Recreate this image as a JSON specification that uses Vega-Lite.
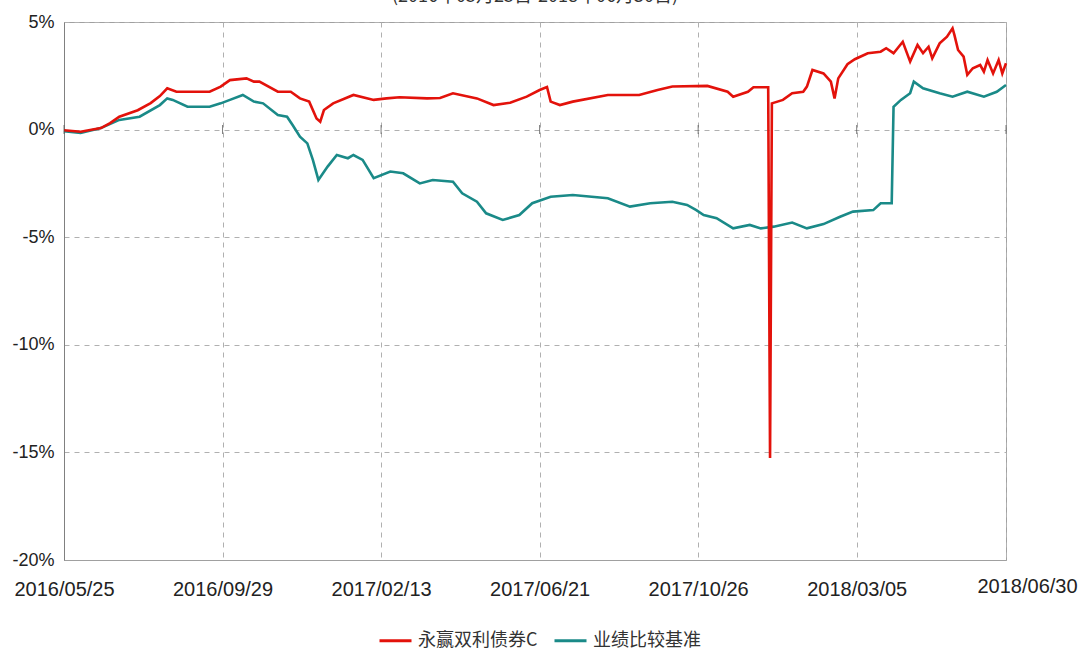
{
  "$schema": "https://vega.github.io/schema/vega-lite/v6.json",
  "width": 942,
  "height": 538,
  "autosize": "none",
  "padding": {"left": 64, "top": 22, "right": 75, "bottom": 91},
  "background": "white",
  "title": {
    "text": "(2016年05月25日-2018年06月30日)",
    "frame": "group",
    "anchor": "middle",
    "offset": 7,
    "font": "Noto Sans CJK SC",
    "fontSize": 18,
    "fontWeight": "normal",
    "color": "#333333"
  },
  "config": {
    "view": {"stroke": "#a0a0a0", "strokeWidth": 1},
    "legend": {"padding": 0}
  },
  "datasets": {
    "series": [
      {"d": 0, "v": -0.03, "s": "永赢双利债券C"},
      {"d": 9, "v": -0.1, "s": "永赢双利债券C"},
      {"d": 20, "v": 0.07, "s": "永赢双利债券C"},
      {"d": 25, "v": 0.3, "s": "永赢双利债券C"},
      {"d": 30, "v": 0.6, "s": "永赢双利债券C"},
      {"d": 40, "v": 0.9, "s": "永赢双利债券C"},
      {"d": 47, "v": 1.23, "s": "永赢双利债券C"},
      {"d": 52, "v": 1.56, "s": "永赢双利债券C"},
      {"d": 56, "v": 1.92, "s": "永赢双利债券C"},
      {"d": 61, "v": 1.76, "s": "永赢双利债券C"},
      {"d": 70, "v": 1.76, "s": "永赢双利债券C"},
      {"d": 79, "v": 1.76, "s": "永赢双利债券C"},
      {"d": 85, "v": 2.0, "s": "永赢双利债券C"},
      {"d": 90, "v": 2.3, "s": "永赢双利债券C"},
      {"d": 99, "v": 2.38, "s": "永赢双利债券C"},
      {"d": 103, "v": 2.23, "s": "永赢双利债券C"},
      {"d": 106, "v": 2.23, "s": "永赢双利债券C"},
      {"d": 116, "v": 1.76, "s": "永赢双利债券C"},
      {"d": 123, "v": 1.76, "s": "永赢双利债券C"},
      {"d": 128, "v": 1.45, "s": "永赢双利债券C"},
      {"d": 133, "v": 1.3, "s": "永赢双利债券C"},
      {"d": 137, "v": 0.52, "s": "永赢双利债券C"},
      {"d": 139, "v": 0.37, "s": "永赢双利债券C"},
      {"d": 141, "v": 0.91, "s": "永赢双利债券C"},
      {"d": 146, "v": 1.22, "s": "永赢双利债券C"},
      {"d": 157, "v": 1.61, "s": "永赢双利债券C"},
      {"d": 168, "v": 1.38, "s": "永赢双利债券C"},
      {"d": 175, "v": 1.45, "s": "永赢双利债券C"},
      {"d": 182, "v": 1.5, "s": "永赢双利债券C"},
      {"d": 197, "v": 1.45, "s": "永赢双利债券C"},
      {"d": 204, "v": 1.47, "s": "永赢双利债券C"},
      {"d": 211, "v": 1.69, "s": "永赢双利债券C"},
      {"d": 224, "v": 1.45, "s": "永赢双利债券C"},
      {"d": 233, "v": 1.14, "s": "永赢双利债券C"},
      {"d": 242, "v": 1.25, "s": "永赢双利债券C"},
      {"d": 251, "v": 1.53, "s": "永赢双利债券C"},
      {"d": 258, "v": 1.84, "s": "永赢双利债券C"},
      {"d": 262, "v": 1.98, "s": "永赢双利债券C"},
      {"d": 264, "v": 1.3, "s": "永赢双利债券C"},
      {"d": 269, "v": 1.14, "s": "永赢双利债券C"},
      {"d": 276, "v": 1.3, "s": "永赢双利债券C"},
      {"d": 295, "v": 1.61, "s": "永赢双利债券C"},
      {"d": 312, "v": 1.61, "s": "永赢双利债券C"},
      {"d": 322, "v": 1.84, "s": "永赢双利债券C"},
      {"d": 330, "v": 2.0, "s": "永赢双利债券C"},
      {"d": 349, "v": 2.03, "s": "永赢双利债券C"},
      {"d": 360, "v": 1.76, "s": "永赢双利债券C"},
      {"d": 363, "v": 1.53, "s": "永赢双利债券C"},
      {"d": 371, "v": 1.76, "s": "永赢双利债券C"},
      {"d": 374, "v": 1.97, "s": "永赢双利债券C"},
      {"d": 382, "v": 1.97, "s": "永赢双利债券C"},
      {"d": 383, "v": -15.26, "s": "永赢双利债券C"},
      {"d": 384, "v": 1.22, "s": "永赢双利债券C"},
      {"d": 390, "v": 1.38, "s": "永赢双利债券C"},
      {"d": 395, "v": 1.69, "s": "永赢双利债券C"},
      {"d": 401, "v": 1.76, "s": "永赢双利债券C"},
      {"d": 403, "v": 2.0, "s": "永赢双利债券C"},
      {"d": 406, "v": 2.77, "s": "永赢双利债券C"},
      {"d": 412, "v": 2.61, "s": "永赢双利债券C"},
      {"d": 416, "v": 2.23, "s": "永赢双利债券C"},
      {"d": 418, "v": 1.45, "s": "永赢双利债券C"},
      {"d": 420, "v": 2.38, "s": "永赢双利债券C"},
      {"d": 425, "v": 3.04, "s": "永赢双利债券C"},
      {"d": 429, "v": 3.27, "s": "永赢双利债券C"},
      {"d": 436, "v": 3.55, "s": "永赢双利债券C"},
      {"d": 443, "v": 3.62, "s": "永赢双利债券C"},
      {"d": 446, "v": 3.78, "s": "永赢双利债券C"},
      {"d": 450, "v": 3.55, "s": "永赢双利债券C"},
      {"d": 455, "v": 4.08, "s": "永赢双利债券C"},
      {"d": 459, "v": 3.16, "s": "永赢双利债券C"},
      {"d": 463, "v": 3.93, "s": "永赢双利债券C"},
      {"d": 466, "v": 3.55, "s": "永赢双利债券C"},
      {"d": 469, "v": 3.85, "s": "永赢双利债券C"},
      {"d": 471, "v": 3.31, "s": "永赢双利债券C"},
      {"d": 475, "v": 4.01, "s": "永赢双利债券C"},
      {"d": 479, "v": 4.32, "s": "永赢双利债券C"},
      {"d": 482, "v": 4.71, "s": "永赢双利债券C"},
      {"d": 483, "v": 4.4, "s": "永赢双利债券C"},
      {"d": 485, "v": 3.7, "s": "永赢双利债券C"},
      {"d": 488, "v": 3.39, "s": "永赢双利债券C"},
      {"d": 490, "v": 2.54, "s": "永赢双利债券C"},
      {"d": 493, "v": 2.85, "s": "永赢双利债券C"},
      {"d": 497, "v": 3.0, "s": "永赢双利债券C"},
      {"d": 499, "v": 2.69, "s": "永赢双利债券C"},
      {"d": 501, "v": 3.23, "s": "永赢双利债券C"},
      {"d": 504, "v": 2.61, "s": "永赢双利债券C"},
      {"d": 507, "v": 3.23, "s": "永赢双利债券C"},
      {"d": 509, "v": 2.61, "s": "永赢双利债券C"},
      {"d": 511, "v": 3.08, "s": "永赢双利债券C"},
      {"d": 0, "v": -0.07, "s": "业绩比较基准"},
      {"d": 9, "v": -0.16, "s": "业绩比较基准"},
      {"d": 20, "v": 0.07, "s": "业绩比较基准"},
      {"d": 30, "v": 0.45, "s": "业绩比较基准"},
      {"d": 41, "v": 0.6, "s": "业绩比较基准"},
      {"d": 52, "v": 1.14, "s": "业绩比较基准"},
      {"d": 56, "v": 1.45, "s": "业绩比较基准"},
      {"d": 59, "v": 1.38, "s": "业绩比较基准"},
      {"d": 67, "v": 1.06, "s": "业绩比较基准"},
      {"d": 79, "v": 1.06, "s": "业绩比较基准"},
      {"d": 85, "v": 1.22, "s": "业绩比较基准"},
      {"d": 90, "v": 1.38, "s": "业绩比较基准"},
      {"d": 97, "v": 1.61, "s": "业绩比较基准"},
      {"d": 103, "v": 1.3, "s": "业绩比较基准"},
      {"d": 108, "v": 1.22, "s": "业绩比较基准"},
      {"d": 116, "v": 0.68, "s": "业绩比较基准"},
      {"d": 121, "v": 0.6, "s": "业绩比较基准"},
      {"d": 124, "v": 0.21, "s": "业绩比较基准"},
      {"d": 128, "v": -0.33, "s": "业绩比较基准"},
      {"d": 132, "v": -0.64, "s": "业绩比较基准"},
      {"d": 135, "v": -1.41, "s": "业绩比较基准"},
      {"d": 138, "v": -2.34, "s": "业绩比较基准"},
      {"d": 143, "v": -1.72, "s": "业绩比较基准"},
      {"d": 148, "v": -1.18, "s": "业绩比较基准"},
      {"d": 154, "v": -1.33, "s": "业绩比较基准"},
      {"d": 157, "v": -1.18, "s": "业绩比较基准"},
      {"d": 162, "v": -1.41, "s": "业绩比较基准"},
      {"d": 168, "v": -2.26, "s": "业绩比较基准"},
      {"d": 177, "v": -1.95, "s": "业绩比较基准"},
      {"d": 184, "v": -2.03, "s": "业绩比较基准"},
      {"d": 193, "v": -2.5, "s": "业绩比较基准"},
      {"d": 200, "v": -2.34, "s": "业绩比较基准"},
      {"d": 211, "v": -2.42, "s": "业绩比较基准"},
      {"d": 216, "v": -2.96, "s": "业绩比较基准"},
      {"d": 224, "v": -3.35, "s": "业绩比较基准"},
      {"d": 229, "v": -3.89, "s": "业绩比较基准"},
      {"d": 238, "v": -4.2, "s": "业绩比较基准"},
      {"d": 247, "v": -3.97, "s": "业绩比较基准"},
      {"d": 254, "v": -3.42, "s": "业绩比较基准"},
      {"d": 264, "v": -3.12, "s": "业绩比较基准"},
      {"d": 276, "v": -3.04, "s": "业绩比较基准"},
      {"d": 295, "v": -3.19, "s": "业绩比较基准"},
      {"d": 307, "v": -3.58, "s": "业绩比较基准"},
      {"d": 318, "v": -3.42, "s": "业绩比较基准"},
      {"d": 330, "v": -3.35, "s": "业绩比较基准"},
      {"d": 338, "v": -3.5, "s": "业绩比较基准"},
      {"d": 343, "v": -3.74, "s": "业绩比较基准"},
      {"d": 347, "v": -3.97, "s": "业绩比较基准"},
      {"d": 354, "v": -4.12, "s": "业绩比较基准"},
      {"d": 363, "v": -4.59, "s": "业绩比较基准"},
      {"d": 372, "v": -4.43, "s": "业绩比较基准"},
      {"d": 378, "v": -4.59, "s": "业绩比较基准"},
      {"d": 385, "v": -4.51, "s": "业绩比较基准"},
      {"d": 395, "v": -4.32, "s": "业绩比较基准"},
      {"d": 403, "v": -4.59, "s": "业绩比较基准"},
      {"d": 412, "v": -4.39, "s": "业绩比较基准"},
      {"d": 421, "v": -4.05, "s": "业绩比较基准"},
      {"d": 428, "v": -3.81, "s": "业绩比较基准"},
      {"d": 439, "v": -3.74, "s": "业绩比较基准"},
      {"d": 443, "v": -3.42, "s": "业绩比较基准"},
      {"d": 449, "v": -3.42, "s": "业绩比较基准"},
      {"d": 450, "v": 1.06, "s": "业绩比较基准"},
      {"d": 454, "v": 1.38, "s": "业绩比较基准"},
      {"d": 459, "v": 1.69, "s": "业绩比较基准"},
      {"d": 461, "v": 2.23, "s": "业绩比较基准"},
      {"d": 466, "v": 1.92, "s": "业绩比较基准"},
      {"d": 475, "v": 1.69, "s": "业绩比较基准"},
      {"d": 482, "v": 1.53, "s": "业绩比较基准"},
      {"d": 490, "v": 1.76, "s": "业绩比较基准"},
      {"d": 499, "v": 1.53, "s": "业绩比较基准"},
      {"d": 506, "v": 1.76, "s": "业绩比较基准"},
      {"d": 511, "v": 2.07, "s": "业绩比较基准"}
    ],
    "ticks": [
      {"d": 0, "v": 0}, {"d": 86, "v": 0}, {"d": 172, "v": 0}, {"d": 258, "v": 0},
      {"d": 344, "v": 0}, {"d": 430, "v": 0}, {"d": 511, "v": 0}
    ]
  },
  "layer": [
    {
      "data": {"name": "series"},
      "transform": [{"filter": "datum.s == '业绩比较基准'"}],
      "mark": {"type": "line", "strokeWidth": 2.6, "interpolate": "linear"},
      "encoding": {
        "x": {
          "field": "d", "type": "quantitative",
          "scale": {"domain": [0, 511], "nice": false, "zero": false},
          "axis": {
            "title": null,
            "values": [0, 86, 172, 258, 344, 430, 511],
            "labelExpr": "datum.value == 0 ? '2016/05/25' : datum.value == 86 ? '2016/09/29' : datum.value == 172 ? '2017/02/13' : datum.value == 258 ? '2017/06/21' : datum.value == 344 ? '2017/10/26' : datum.value == 430 ? '2018/03/05' : '2018/06/30'",
            "labelFlush": false,
            "labelOverlap": false,
            "labelBound": false,
            "labelFont": "Liberation Sans",
            "labelFontSize": 20,
            "labelColor": "#222222",
            "labelPadding": {"condition": {"test": "datum.value == 511", "value": 16}, "value": 19},
            "labelOffset": {"condition": {"test": "datum.value == 511", "value": 21}, "value": 0},
            "ticks": false,
            "tickSize": 0,
            "domain": true,
            "domainColor": "#a0a0a0",
            "grid": true,
            "gridDash": [5, 5],
            "gridColor": "#b0b0b0",
            "gridWidth": 1
          }
        },
        "y": {
          "field": "v", "type": "quantitative",
          "scale": {"domain": [-20, 5], "nice": false, "zero": false},
          "axis": {
            "title": null,
            "values": [-20, -15, -10, -5, 0, 5],
            "labelExpr": "datum.value + '%'",
            "labelFont": "Liberation Sans",
            "labelFontSize": 18,
            "labelColor": "#222222",
            "labelPadding": 10,
            "ticks": false,
            "tickSize": 0,
            "domain": true,
            "domainColor": "#808080",
            "grid": true,
            "gridDash": [5, 5],
            "gridColor": "#b0b0b0",
            "gridWidth": 1
          }
        },
        "color": {
          "field": "s", "type": "nominal",
          "scale": {"domain": ["永赢双利债券C", "业绩比较基准"], "range": ["#e3120b", "#1a8a88"]},
          "legend": {
            "title": null,
            "orient": "none",
            "direction": "horizontal",
            "legendX": 314,
            "legendY": 601,
            "symbolType": "stroke",
            "symbolSize": 1024,
            "symbolStrokeWidth": 3,
            "labelFont": "Noto Sans CJK SC",
            "labelFontSize": 18,
            "labelColor": "#333333",
            "labelOffset": 5,
            "columnPadding": 10
          }
        }
      }
    },
    {
      "data": {"name": "series"},
      "transform": [{"filter": "datum.s == '永赢双利债券C'"}],
      "mark": {"type": "line", "strokeWidth": 2.6, "interpolate": "linear"},
      "encoding": {
        "x": {"field": "d", "type": "quantitative"},
        "y": {"field": "v", "type": "quantitative"},
        "color": {"field": "s", "type": "nominal"}
      }
    },
    {
      "data": {"name": "ticks"},
      "mark": {"type": "tick", "orient": "vertical", "size": 9, "thickness": 1, "color": "#444444"},
      "encoding": {
        "x": {"field": "d", "type": "quantitative"},
        "y": {"field": "v", "type": "quantitative"}
      }
    }
  ]
}
